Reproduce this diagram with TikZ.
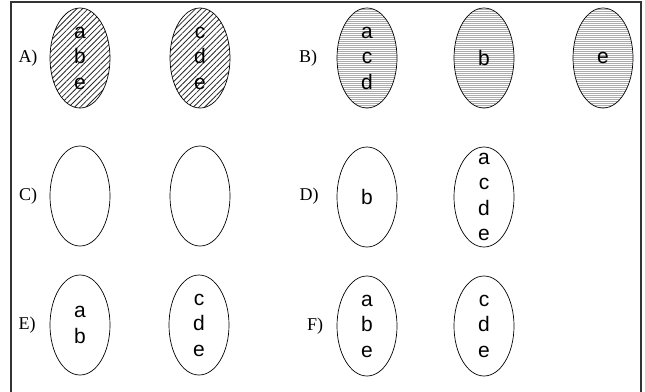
\documentclass[tikz,border=0pt]{standalone}
\usepackage{fontspec}
\setmainfont{Liberation Serif}
\setsansfont{Liberation Sans}
\usetikzlibrary{shapes.geometric,patterns.meta}

\begin{document}
\begin{tikzpicture}[x=1bp, y=-1bp,
    oval/.style={ellipse, draw, line width=0.7bp, minimum width=60bp, minimum height=100bp, inner sep=0pt},
    letters/.style={font=\sffamily\fontsize{21bp}{25.5bp}\selectfont, align=center, inner sep=0pt},
    tag/.style={font=\fontsize{18bp}{20bp}\selectfont, inner sep=0pt},
    hatchA/.style={pattern={Lines[angle=45, distance=4bp, line width=0.8bp]}, pattern color=black!85},
    hatchB/.style={pattern={Lines[angle=0, distance=2bp, line width=0.3bp]}, pattern color=black!32}]
    \useasboundingbox (0,0) rectangle (645,391);
    % Frame, open at the bottom
    \draw[line width=1.2bp, black!80] (11,400) -- (11,2) -- (641,2) -- (641,400);

    % Row A and B
    \node[tag] (la) at (28,58) {A)};
    \node[oval, hatchA] (a1) at (80,58) {};
    \node[oval, hatchA] (a2) at (200,58) {};
    \node[letters] (a1t) at (a1) {a\\b\\e};
    \node[letters] (a2t) at (a2) {c\\d\\e};

    \node[tag] (lb) at (308,58) {B)};
    \foreach \x/\n in {367/1, 484/2, 603/3} {
        \node[oval, hatchB] (b\n) at (\x,58) {};
    }
    \node[letters] (b1t) at (b1) {a\\c\\d};
    \node[letters] (b2t) at (b2) {b};
    \node[letters] (b3t) at (b3) {e};

    % Row C and D
    \node[tag] (lc) at (28,196) {C)};
    \node[oval] (c1) at (80,196) {};
    \node[oval] (c2) at (200,196) {};

    \node[tag] (ld) at (309,196) {D)};
    \node[oval] (d1) at (367,197) {};
    \node[oval] (d2) at (484,197) {};
    \node[letters] (d1t) at (d1) {b};
    \node[letters] (d2t) at (d2) {a\\c\\d\\e};

    % Row E and F
    \node[tag] (le) at (27,325) {E)};
    \node[oval] (e1) at (80,325) {};
    \node[oval] (e2) at (199,325) {};
    \node[letters] (e1t) at (e1) {a\\b};
    \node[letters] (e2t) at (e2) {c\\d\\e};

    \node[tag] (lf) at (315,326) {F)};
    \node[oval] (f1) at (367,326) {};
    \node[oval] (f2) at (484,326) {};
    \node[letters] (f1t) at (f1) {a\\b\\e};
    \node[letters] (f2t) at (f2) {c\\d\\e};
\end{tikzpicture}
\end{document}
